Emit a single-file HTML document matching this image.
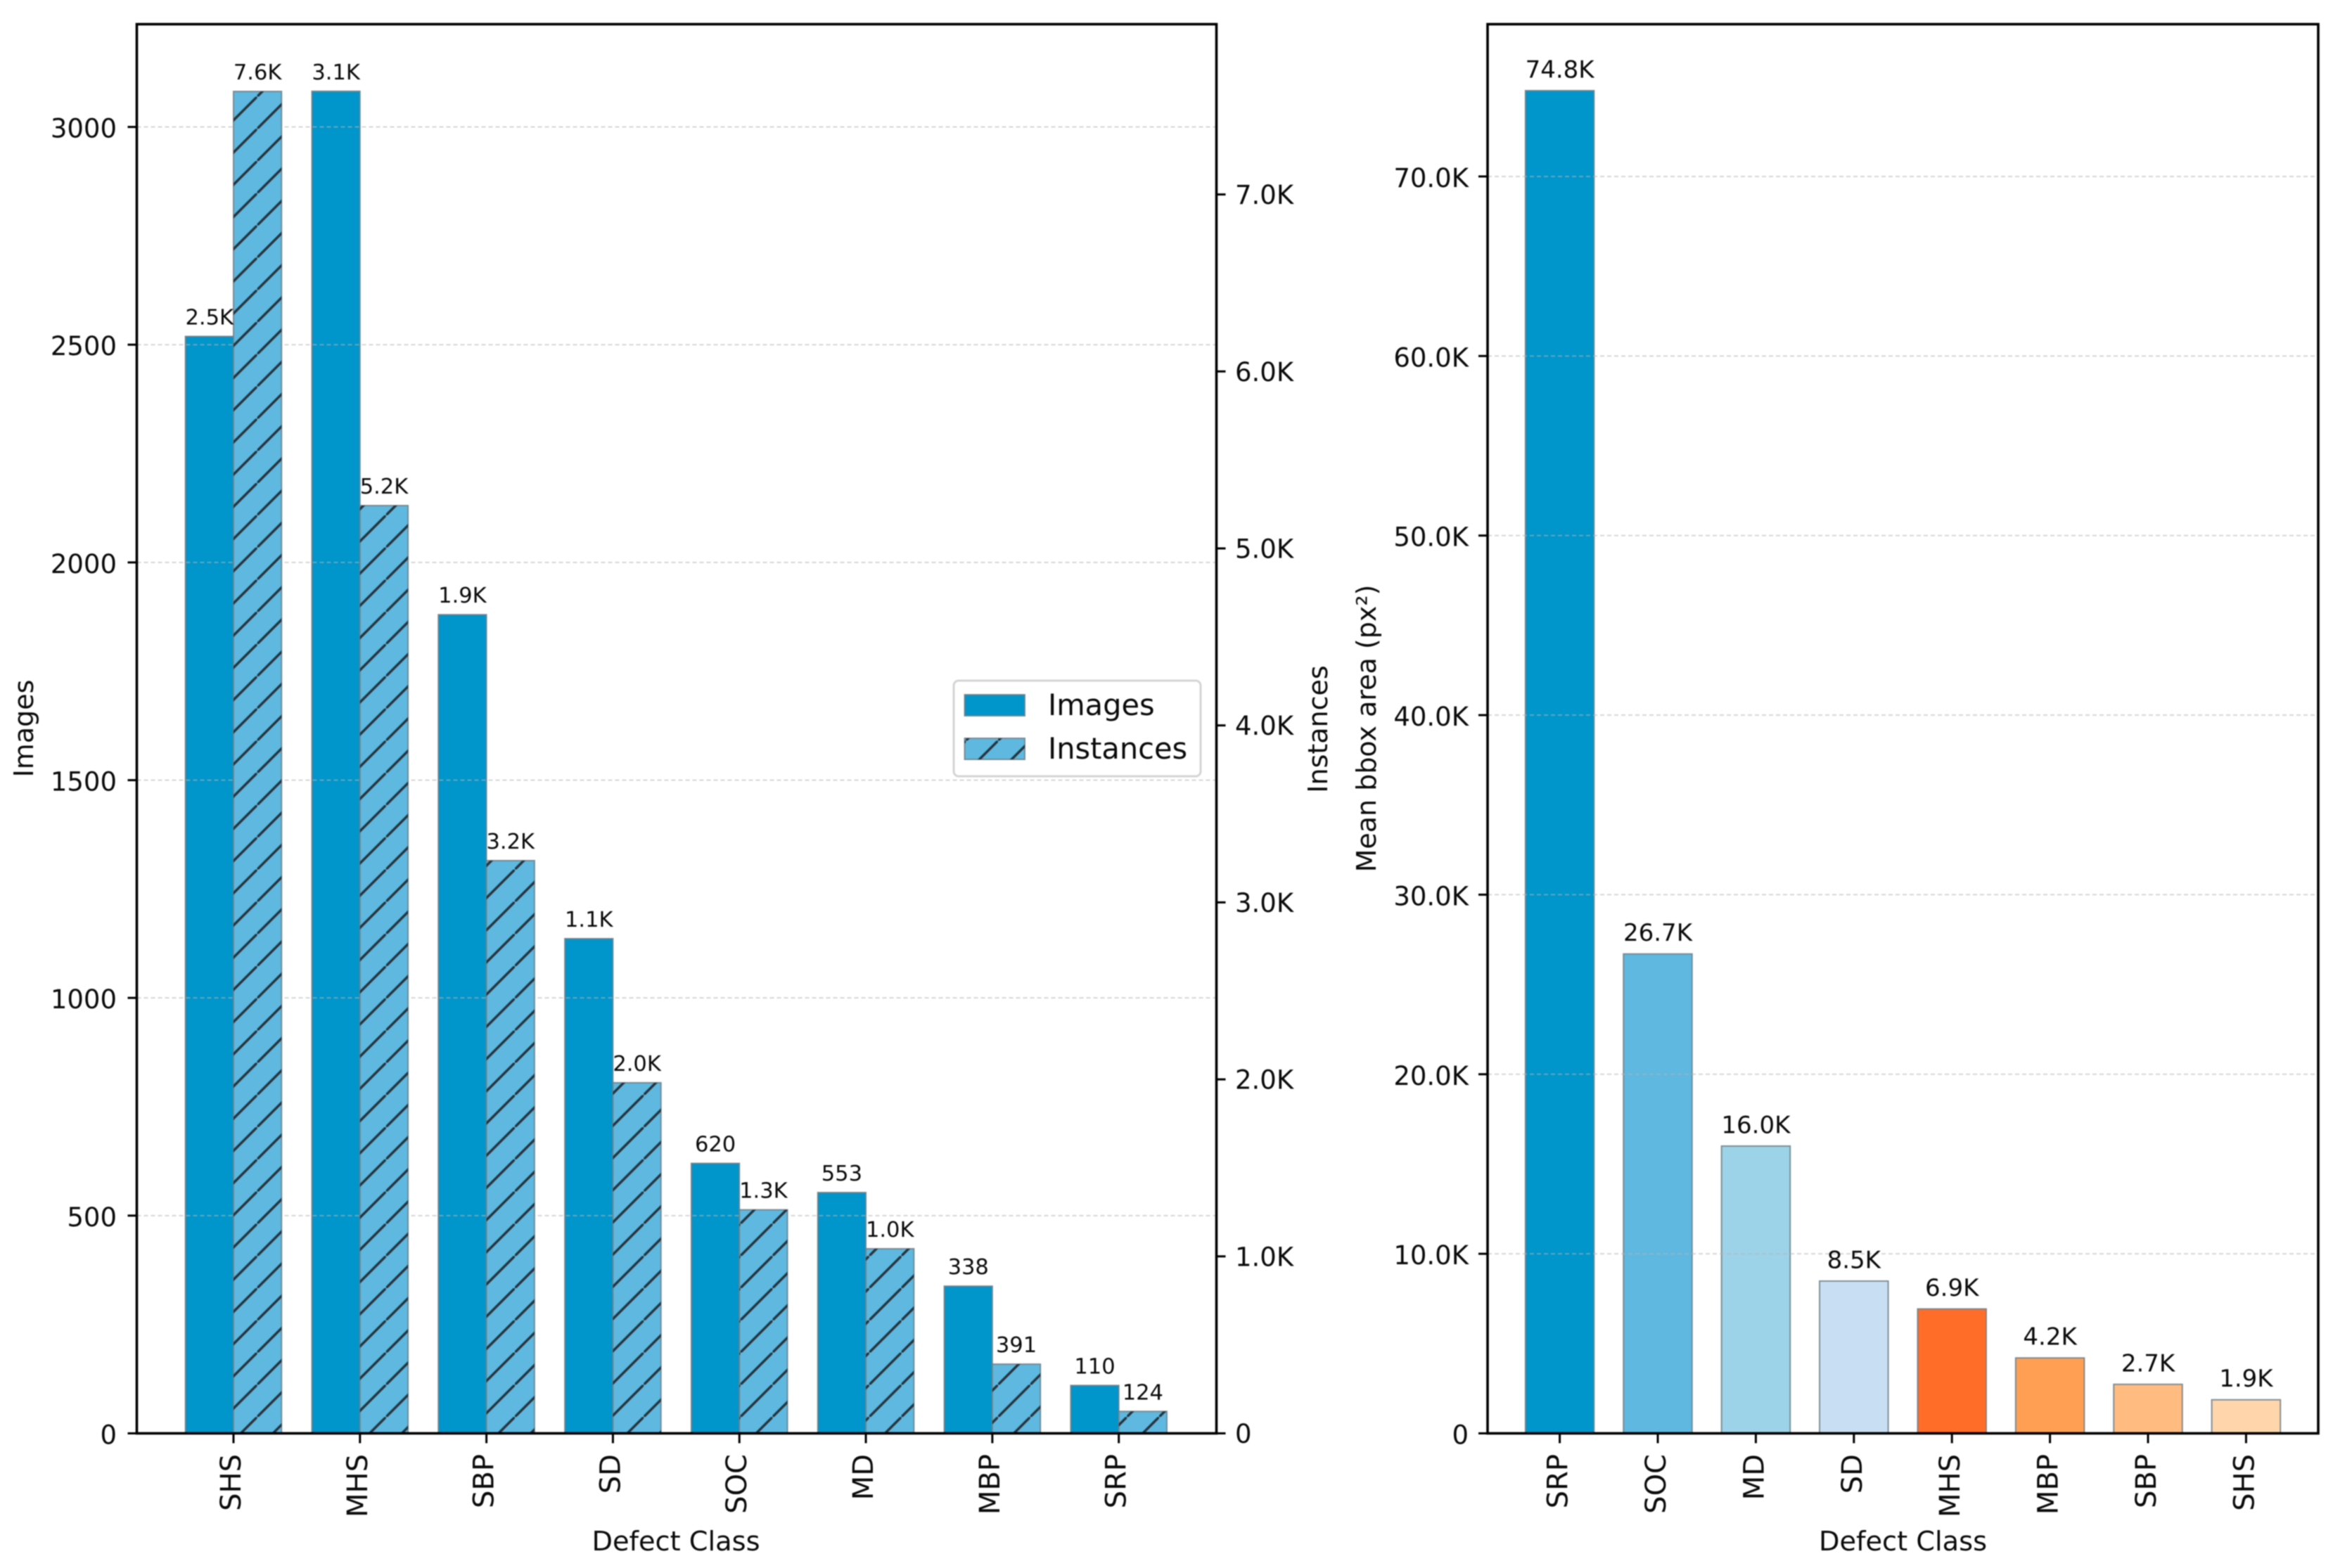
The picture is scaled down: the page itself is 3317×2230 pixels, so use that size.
<!DOCTYPE html>
<html lang="en">
<head>
<meta charset="utf-8">
<title>Defect class statistics</title>
<style>
html,body{margin:0;padding:0;background:#fff;width:3317px;height:2230px;overflow:hidden}
svg{display:block;filter:blur(0.7px)}
text{font-family:"DejaVu Sans","Liberation Sans",sans-serif;fill:#0a0a0a}
</style>
</head>
<body>
<svg id="chart" xmlns="http://www.w3.org/2000/svg" width="3317" height="2230" viewBox="0 0 3317 2230">
  <defs>
    <pattern id="hatch" patternUnits="userSpaceOnUse" width="45.8" height="45.8" patternTransform="translate(-0.8 0)">
      <line x1="-4" y1="49.8" x2="49.8" y2="-4" stroke="#26343e" stroke-width="3.5"/>
    </pattern>
  </defs>
</svg>
<script>
// ---- Left chart data ----
const leftCategories = ['SHS', 'MHS', 'SBP', 'SD', 'SOC', 'MD', 'MBP', 'SRP'];
const imageCounts = [2519, 3082, 1880, 1136, 620, 553, 338, 110];
const instanceCounts = [7582, 5242, 3236, 1981, 1263, 1043, 391, 124];
const imageTicks = [0, 500, 1000, 1500, 2000, 2500, 3000];
const imageTickLabels = ['0', '500', '1000', '1500', '2000', '2500', '3000'];
const instanceTicks = [0, 1000, 2000, 3000, 4000, 5000, 6000, 7000];
const instanceTickLabels = ['0', '1.0K', '2.0K', '3.0K', '4.0K', '5.0K', '6.0K', '7.0K'];

// ---- Right chart data ----
const rightCategories = ['SRP', 'SOC', 'MD', 'SD', 'MHS', 'MBP', 'SBP', 'SHS'];
const meanBboxArea = [74780, 26700, 16000, 8480, 6930, 4200, 2730, 1870];
const areaTicks = [0, 10000, 20000, 30000, 40000, 50000, 60000, 70000];
const areaTickLabels = ['0', '10.0K', '20.0K', '30.0K', '40.0K', '50.0K', '60.0K', '70.0K'];
const areaColors = ['#0095cb', '#5eb8df', '#9cd3e8', '#c8dff3', '#ff6d29', '#ff9f53', '#ffbb80', '#ffd6ab'];

const SVG_NS = 'http://www.w3.org/2000/svg';
const root = document.getElementById('chart');

function make(tag, parent, attrs, text) {
  const el = document.createElementNS(SVG_NS, tag);
  for (const k in attrs) el.setAttribute(k, attrs[k]);
  if (text !== undefined) el.textContent = text;
  parent.appendChild(el);
  return el;
}
function linear(d0, d1, r0, r1) {
  return v => r0 + (v - d0) / (d1 - d0) * (r1 - r0);
}
function fmt(v) {
  return v >= 1000 ? (v / 1000).toFixed(1) + 'K' : String(Math.round(v));
}
function group(parent, name) {
  const g = make('g', parent, {});
  
  
  return g;
}

const AXIS_BOTTOM = 2038.5, AXIS_TOP = 34.4;
const L = { left: 194.5, right: 1729.5 };
const R = { left: 2115, right: 3296 };

const xLeft = linear(-0.7645, 7.772, L.left, L.right);
const yImages = linear(0, 3236, AXIS_BOTTOM, AXIS_TOP);
const yInstances = linear(0, 7962, AXIS_BOTTOM, AXIS_TOP);
const xRight = linear(-0.736, 7.736, R.left, R.right);
const yArea = linear(0, 78480, AXIS_BOTTOM, AXIS_TOP);

const BAR_EDGE = { stroke: '#6f7f88', 'stroke-width': 2, 'stroke-opacity': 0.85 };
function rectFor(x0, x1, yTop, fill) {
  return Object.assign({ x: x0, y: yTop, width: x1 - x0, height: AXIS_BOTTOM - yTop, fill: fill }, BAR_EDGE);
}

function drawGrid(parent, ticks, scale, x0, x1) {
  ticks.forEach(t => {
    if (t === 0) return;
    const line = make('line', parent, {
      x1: x0, x2: x1, y1: scale(t), y2: scale(t),
      stroke: '#b4b4b4', 'stroke-width': 2, 'stroke-opacity': 0.55, 'stroke-dasharray': '6 4'
    });
    
    
  });
}
function drawYTicks(parent, ticks, labels, scale, spineX, side, name, labelDy) {
  ticks.forEach((t, i) => {
    const y = scale(t);
    const dir = side === 'left' ? -1 : 1;
    const tick = make('line', parent, { x1: spineX, x2: spineX + dir * 13, y1: y, y2: y, stroke: '#000', 'stroke-width': 3 });
    
    
    const lab = make('text', parent, {
      x: spineX + dir * (side === 'left' ? (spineX === L.left ? 28.5 : 27) : 26.5),
      y: y + labelDy,
      'font-size': 37,
      'text-anchor': side === 'left' ? 'end' : 'start'
    }, labels[i]);
    
    
  });
}
function drawXTicks(parent, cats, scale, name, labelDx) {
  cats.forEach((c, i) => {
    const x = scale(i);
    const tick = make('line', parent, { x1: x, x2: x, y1: AXIS_BOTTOM, y2: AXIS_BOTTOM + 14, stroke: '#000', 'stroke-width': 3 });
    
    
    const lx = x + labelDx, ly = 2068;
    const lab = make('text', parent, {
      x: lx, y: ly, 'font-size': 40, 'text-anchor': 'end',
      transform: 'rotate(-90 ' + lx + ' ' + ly + ')'
    }, c);
    
    
  });
}
function drawFrame(parent, box, name) {
  const frame = make('rect', parent, {
    x: box.left, y: AXIS_TOP, width: box.right - box.left, height: AXIS_BOTTOM - AXIS_TOP,
    fill: 'none', stroke: '#000', 'stroke-width': 3.6
  });
  
  
}
function vText(parent, x, y, str, name) {
  const t = make('text', parent, {
    x: x, y: y, 'font-size': 38, 'text-anchor': 'middle',
    transform: 'rotate(-90 ' + x + ' ' + y + ')'
  }, str);
  
  
  return t;
}

// ===== Left panel =====
const leftG = group(root, 'images-instances-chart');
const BAR_W = 0.38;

const imagesG = group(leftG, 'images-bars');
imageCounts.forEach((v, i) => {
  const b = make('rect', imagesG, rectFor(xLeft(i - BAR_W), xLeft(i), yImages(v), '#0095cb'));
  
  
});

const leftGrid = group(leftG, 'left-gridlines');
drawGrid(leftGrid, imageTicks, yImages, L.left, L.right);

const instG = group(leftG, 'instances-bars');
instanceCounts.forEach((v, i) => {
  const b = make('rect', instG, rectFor(xLeft(i), xLeft(i + BAR_W), yInstances(v), '#5eb8df'));
  
  
  const h = make('rect', instG, { x: xLeft(i), y: yInstances(v), width: xLeft(i + BAR_W) - xLeft(i), height: AXIS_BOTTOM - yInstances(v), fill: 'url(#hatch)' });
  
  
});

const leftLabels = group(leftG, 'left-value-labels');
imageCounts.forEach((v, i) => {
  const t = make('text', leftLabels, { x: xLeft(i - BAR_W / 2), y: yImages(v) - 17, 'font-size': 30.5, 'text-anchor': 'middle' }, fmt(v));
  
  
});
instanceCounts.forEach((v, i) => {
  const t = make('text', leftLabels, { x: xLeft(i + BAR_W / 2), y: yInstances(v) - 17, 'font-size': 30.5, 'text-anchor': 'middle' }, fmt(v));
  
  
});

drawFrame(leftG, L, 'left-axes-frame');
drawYTicks(group(leftG, 'images-y-axis'), imageTicks, imageTickLabels, yImages, L.left, 'left', 'images-axis', 15);
drawYTicks(group(leftG, 'instances-y-axis'), instanceTicks, instanceTickLabels, yInstances, L.right, 'right', 'instances-axis', 13.5);
drawXTicks(group(leftG, 'left-x-axis'), leftCategories, xLeft, 'left-x-axis', 10);

vText(leftG, 47, 1036, 'Images', 'images-axis-title');
vText(leftG, 1887, 1037, 'Instances', 'instances-axis-title');
const leftXTitle = make('text', leftG, { x: 961, y: 2205, 'font-size': 38.3, 'text-anchor': 'middle' }, 'Defect Class');



// Legend
const legend = group(leftG, 'legend');
const legendBox = make('rect', legend, { x: 1356, y: 968, width: 351, height: 136, rx: 7, fill: '#fff', 'fill-opacity': 0.9, stroke: '#d4d4d4', 'stroke-width': 3 });


const swImages = make('rect', legend, Object.assign({ x: 1371.5, y: 988, width: 85.5, height: 30, fill: '#0095cb' }, BAR_EDGE));


const txtImages = make('text', legend, { x: 1490, y: 1017, 'font-size': 41.5 }, 'Images');


const swInst = make('rect', legend, Object.assign({ x: 1371.5, y: 1050, width: 85.5, height: 30, fill: '#5eb8df' }, BAR_EDGE));


const swInstH = make('rect', legend, { x: 1371.5, y: 1050, width: 85.5, height: 30, fill: 'url(#hatch)' });


const txtInst = make('text', legend, { x: 1490, y: 1079, 'font-size': 41.5 }, 'Instances');



// ===== Right panel =====
const rightG = group(root, 'mean-bbox-area-chart');
const AREA_W = 0.7;
const areaBars = group(rightG, 'area-bars');
meanBboxArea.forEach((v, i) => {
  const b = make('rect', areaBars, rectFor(xRight(i - AREA_W / 2), xRight(i + AREA_W / 2), yArea(v), areaColors[i]));
  
  
});
drawGrid(group(rightG, 'right-gridlines'), areaTicks, yArea, R.left, R.right);
const rightLabels = group(rightG, 'right-value-labels');
meanBboxArea.forEach((v, i) => {
  const t = make('text', rightLabels, { x: xRight(i), y: yArea(v) - 18.5, 'font-size': 34, 'text-anchor': 'middle' }, fmt(v));
  
  
});
drawFrame(rightG, R, 'right-axes-frame');
drawYTicks(group(rightG, 'area-y-axis'), areaTicks, areaTickLabels, yArea, R.left, 'left', 'area-axis', 15);
drawXTicks(group(rightG, 'right-x-axis'), rightCategories, xRight, 'right-x-axis', 11);
vText(rightG, 1956, 1036, 'Mean bbox area (px\u00B2)', 'area-axis-title');
const rightXTitle = make('text', rightG, { x: 2705.5, y: 2205, 'font-size': 38.3, 'text-anchor': 'middle' }, 'Defect Class');


</script>
</body>
</html>
